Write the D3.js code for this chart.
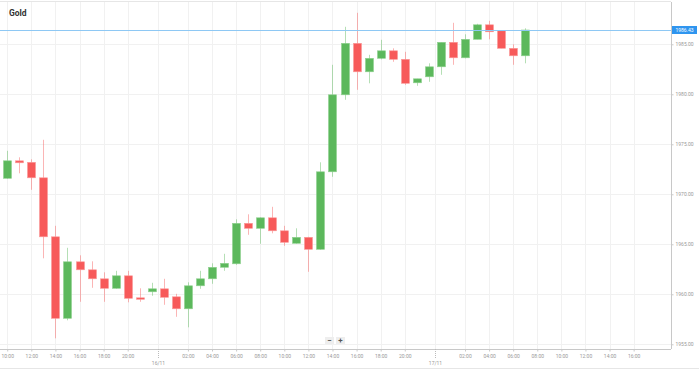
<!DOCTYPE html>
<html>
<head>
<meta charset="utf-8">
<script src="https://cdn.jsdelivr.net/npm/d3@7"></script>
<style>
  html, body { margin: 0; padding: 0; background: #fff; }
  svg { display: block; font-family: Roboto, "Open Sans", sans-serif; }
</style>
</head>
<body>
<div id="chart"></div>
<script>
// ---- data (hourly candles, 23:00 is the daily break) ----
const title = "Gold";
const times = [
  "15/11 10:00","15/11 11:00","15/11 12:00","15/11 13:00","15/11 14:00","15/11 15:00","15/11 16:00",
  "15/11 17:00","15/11 18:00","15/11 19:00","15/11 20:00","15/11 21:00","15/11 22:00",
  "16/11 00:00","16/11 01:00","16/11 02:00","16/11 03:00","16/11 04:00","16/11 05:00","16/11 06:00",
  "16/11 07:00","16/11 08:00","16/11 09:00","16/11 10:00","16/11 11:00","16/11 12:00","16/11 13:00",
  "16/11 14:00","16/11 15:00","16/11 16:00","16/11 17:00","16/11 18:00","16/11 19:00","16/11 20:00",
  "16/11 21:00","16/11 22:00",
  "17/11 00:00","17/11 01:00","17/11 02:00","17/11 03:00","17/11 04:00","17/11 05:00","17/11 06:00","17/11 07:00"
];
const open = [
  1971.60,1973.35,1973.20,1971.65,1965.75,1957.60,1963.25,1962.45,1961.55,1960.60,1961.85,1959.65,1960.25,
  1960.55,1959.75,1958.55,1960.85,1961.55,1962.70,1963.05,1967.10,1966.60,1967.65,1966.35,1965.10,1965.70,
  1964.50,1972.25,1979.95,1985.10,1982.25,1983.60,1984.35,1983.50,1981.15,1981.75,
  1982.75,1985.20,1983.65,1985.50,1986.95,1986.35,1984.60,1983.85
];
const high = [
  1974.35,1973.70,1973.50,1975.45,1966.85,1964.65,1963.90,1963.30,1962.20,1962.35,1962.35,1960.60,1961.15,
  1961.55,1960.05,1961.20,1962.35,1963.10,1964.05,1967.50,1968.00,1967.70,1968.75,1966.85,1966.60,1965.75,
  1973.20,1982.95,1986.75,1988.15,1983.95,1985.45,1984.60,1984.25,1981.55,1983.10,
  1985.20,1987.15,1986.00,1987.05,1987.35,1986.35,1985.00,1986.60
];
const low = [
  1971.55,1972.10,1970.45,1963.60,1955.60,1957.40,1959.25,1960.65,1959.25,1960.55,1959.20,1959.25,1959.85,
  1958.95,1957.75,1956.70,1960.55,1961.05,1962.35,1962.95,1965.95,1965.05,1966.10,1964.85,1965.05,1962.25,
  1964.45,1971.75,1979.45,1980.45,1981.10,1983.50,1983.25,1980.95,1980.85,1981.25,
  1981.95,1982.95,1983.60,1985.50,1985.50,1984.60,1982.95,1983.10
];
const close = [
  1973.35,1973.15,1971.65,1965.75,1957.60,1963.25,1962.45,1961.55,1960.60,1961.85,1959.60,1959.50,1960.55,
  1959.70,1958.55,1960.85,1961.55,1962.70,1963.10,1967.10,1966.60,1967.65,1966.35,1965.20,1965.70,1964.50,
  1972.25,1979.95,1985.10,1982.25,1983.60,1984.35,1983.50,1981.10,1981.55,1982.75,
  1985.20,1983.65,1985.50,1986.95,1986.25,1984.60,1983.85,1986.43
];
const lastPrice = 1986.43;
const priceTicks = [1955, 1960, 1965, 1970, 1975, 1980, 1985];
const days = ["15/11", "16/11", "17/11"];
const dateLabels = ["16/11", "17/11"];
const hourLabels = ["02:00","04:00","06:00","08:00","10:00","12:00","14:00","16:00","18:00","20:00"];

// ---- session slots (every trading hour, incl. empty future ones) ----
const slots = [];
days.forEach((day, di) => {
  const first = di === 0 ? 10 : 0;
  const last = di === days.length - 1 ? 18 : 22;
  for (let h = first; h <= last; h++) slots.push(`${day} ${String(h).padStart(2, "0")}:00`);
});
const slotIndex = new Map(slots.map((s, i) => [s, i]));

const candles = times.map((t, i) => ({
  t, i: slotIndex.get(t), o: open[i], h: high[i], l: low[i], c: close[i]
}));

// ---- layout ----
const W = 699, H = 370;
const plotRight = 671, plotTop = 2, plotBottom = 349;

const svg = d3.select("#chart").append("svg")
  .attr("width", W)
  .attr("height", H);

const x = d3.scaleLinear().domain([-0.6, 55.1]).range([0, plotRight]);
const y = d3.scaleLinear().domain([1954.53, 1989.23]).range([plotBottom, plotTop]);

const green = "#5cb85c", red = "#f75a5a";

// labelled hours (last day stops at 16:00, midnight shows the date)
const hourTicks = slots.filter(s => hourLabels.includes(s.slice(6)) && !(s.startsWith("17/11") && s.slice(6) > "16:00"))
  .map(s => slotIndex.get(s));
const dateTicks = dateLabels.map(d => slotIndex.get(`${d} 00:00`) - 0.5);

// ---- grid ----
const grid = svg.append("g");
grid.selectAll(".hg")
  .data(priceTicks)
  .join("line")
  .attr("x1", 0).attr("x2", plotRight)
  .attr("y1", d => Math.round(y(d)) + 0.5)
  .attr("y2", d => Math.round(y(d)) + 0.5)
  .attr("stroke", "#f1f1f1");
grid.selectAll(".vg")
  .data(hourTicks.concat(dateTicks))
  .join("line")
  .attr("x1", d => Math.round(x(d)) + 0.5)
  .attr("x2", d => Math.round(x(d)) + 0.5)
  .attr("y1", plotTop).attr("y2", plotBottom)
  .attr("stroke", "#f1f1f1");

// frame lines
svg.append("line").attr("x1", 0).attr("x2", plotRight).attr("y1", 1.5).attr("y2", 1.5).attr("stroke", "#e6e6e6");
svg.append("line").attr("x1", 0).attr("x2", W).attr("y1", 368.5).attr("y2", 368.5).attr("stroke", "#e6e6e6");

// ---- title ----
svg.append("text")
  .attr("x", 9).attr("y", 16)
  .text(title)
  .style("font-size", "8.5px")
  .style("font-weight", "bold")
  .style("fill", "#333");

// ---- candles ----
const bodyW = 8;
const cg = svg.append("g").selectAll("g")
  .data(candles)
  .join("g");

cg.append("line")
  .attr("x1", d => Math.round(x(d.i)) + 0.5)
  .attr("x2", d => Math.round(x(d.i)) + 0.5)
  .attr("y1", d => y(d.h))
  .attr("y2", d => y(d.l))
  .attr("stroke", d => d.c >= d.o ? green : red)
  .attr("stroke-opacity", 0.45);

cg.append("rect")
  .attr("x", d => Math.round(x(d.i)) + 0.5 - bodyW / 2)
  .attr("y", d => y(Math.max(d.o, d.c)))
  .attr("width", bodyW)
  .attr("height", d => Math.max(1.5, Math.abs(y(d.o) - y(d.c))))
  .attr("fill", d => d.c >= d.o ? green : red)
  .attr("stroke", d => d.c >= d.o ? "#8fd08f" : "#fb9a9a")
  .attr("stroke-width", 0.6);

// ---- last price line ----
svg.append("line")
  .attr("x1", 0).attr("x2", plotRight)
  .attr("y1", Math.round(y(lastPrice)) + 0.5)
  .attr("y2", Math.round(y(lastPrice)) + 0.5)
  .attr("stroke", "#8ec8f4");

// ---- right axis ----
const yAxis = svg.append("g")
  .attr("transform", `translate(${plotRight + 0.5},0)`)
  .call(d3.axisRight(y).tickValues(priceTicks).tickSize(2).tickPadding(2).tickFormat(d3.format(".2f")));
yAxis.select(".domain").attr("d", `M0,${plotTop}V${plotBottom}`).attr("stroke", "#c8c8c8");
yAxis.selectAll("line").attr("stroke", "#c8c8c8");
yAxis.selectAll("text")
  .style("font-size", "5px")
  .style("fill", "#999")
  .style("font-family", "Roboto, sans-serif");

// price tag
const tag = svg.append("g").attr("transform", `translate(${plotRight + 1},${y(lastPrice)})`);
tag.append("rect").attr("x", 0).attr("y", -4).attr("width", 25).attr("height", 8).attr("fill", "#2f95ef");
tag.append("text")
  .attr("x", 12.5).attr("y", 0)
  .attr("text-anchor", "middle")
  .attr("dominant-baseline", "central")
  .text(d3.format(".2f")(lastPrice))
  .style("font-size", "5px")
  .style("fill", "#fff");

// ---- bottom axis ----
const xAxis = svg.append("g")
  .attr("transform", `translate(0,${plotBottom + 0.5})`)
  .call(d3.axisBottom(x)
    .tickValues(hourTicks)
    .tickSize(2).tickPadding(3)
    .tickFormat(i => slots[i].slice(6)));
xAxis.select(".domain").attr("d", `M0,0H${plotRight}`).attr("stroke", "#c8c8c8");
xAxis.selectAll("line").attr("stroke", "#c8c8c8");
xAxis.selectAll("text")
  .style("font-size", "5px")
  .style("fill", "#999")
  .style("font-family", "Roboto, sans-serif");

// date markers
const dg = svg.append("g").selectAll("g")
  .data(dateLabels)
  .join("g")
  .attr("transform", (d, k) => `translate(${Math.round(x(dateTicks[k])) + 0.5},${plotBottom})`);
dg.append("line")
  .attr("y1", 0).attr("y2", 9)
  .attr("stroke", "#bbb")
  .attr("stroke-dasharray", "1,1");
dg.append("text")
  .attr("y", 16)
  .attr("text-anchor", "middle")
  .text(d => d)
  .style("font-size", "5px")
  .style("fill", "#999");

// ---- zoom buttons ----
const zb = svg.append("g").selectAll("g")
  .data(["−", "+"])
  .join("g")
  .attr("transform", (d, k) => `translate(${325 + k * 11},337)`);
zb.append("rect").attr("width", 9).attr("height", 7).attr("fill", "#eeeeee");
zb.append("text")
  .attr("x", 4.5).attr("y", 3.6)
  .attr("text-anchor", "middle")
  .attr("dominant-baseline", "central")
  .text(d => d)
  .style("font-size", "8px")
  .style("font-weight", "bold")
  .style("fill", "#555");
</script>
</body>
</html>
